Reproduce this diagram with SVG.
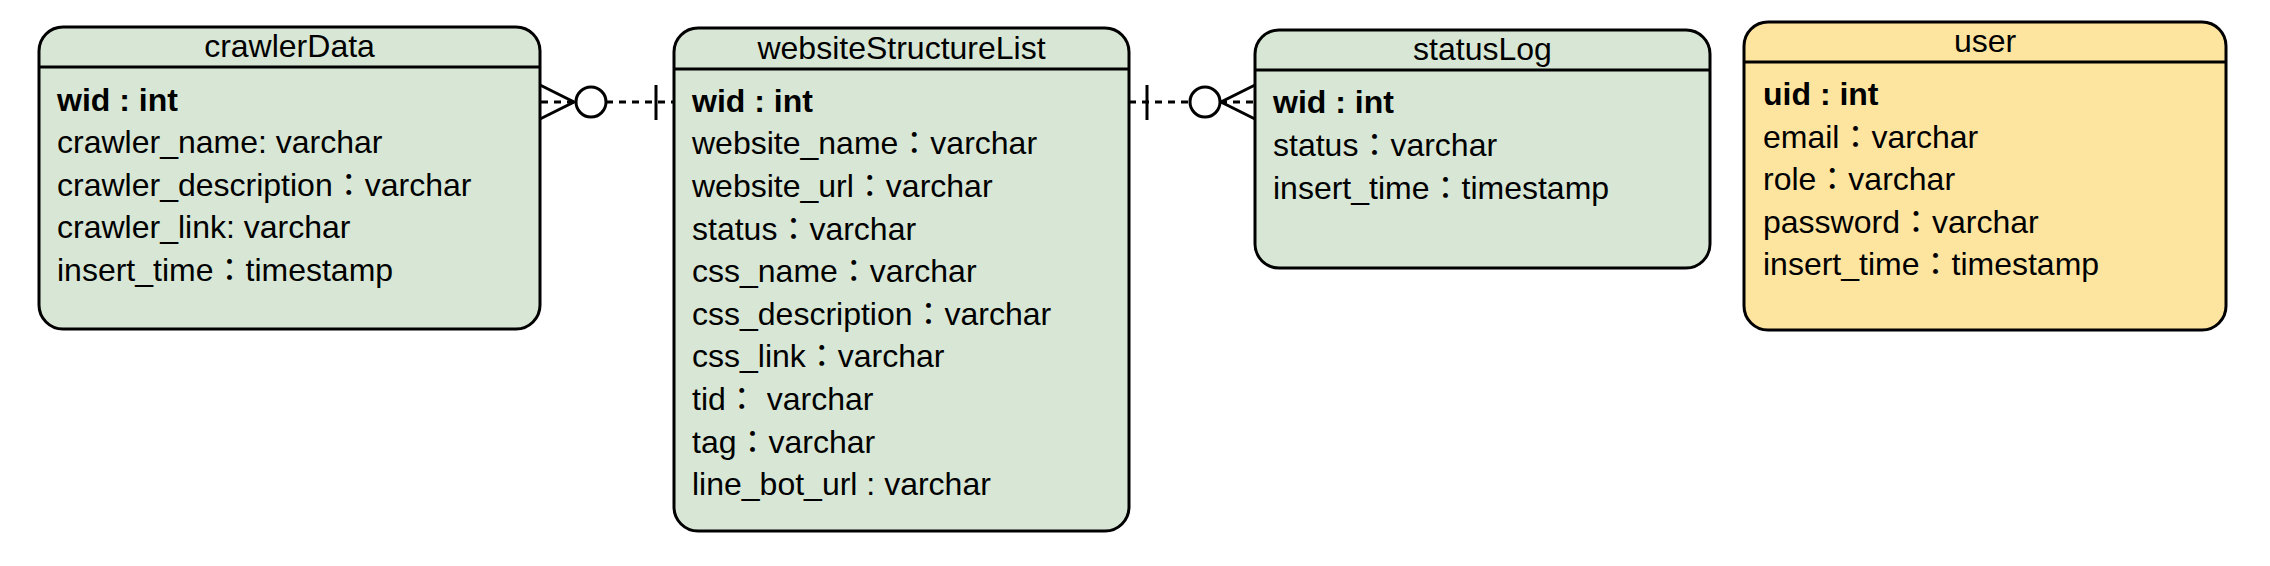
<svg xmlns="http://www.w3.org/2000/svg" width="2270" height="566" viewBox="0 0 2270 566">
<style>
.box{stroke:#000;stroke-width:3}
.green{fill:#d8e7d5}
.yellow{fill:#fde5a0}
.sep{stroke:#000;stroke-width:3}
text{font-family:"Liberation Sans","Noto Sans CJK TC",Arial,sans-serif;font-size:32px;fill:#000}
.title{text-anchor:middle}
.pk{font-weight:bold}
.dash{stroke:#000;stroke-width:3;fill:none;stroke-dasharray:7 6}
.sym{stroke:#000;stroke-width:3;fill:none}
.circ{stroke:#000;stroke-width:3;fill:#fff}
</style>
<rect width="2270" height="566" fill="#fff"/>
<g id="crawlerData">
<rect class="box green" x="39" y="27" width="501" height="302" rx="24"/>
<line class="sep" x1="39" y1="67" x2="540" y2="67"/>
<text class="title" x="289.5" y="57">crawlerData</text>
<text class="pk" x="57" y="110.5">wid : int</text>
<text x="57" y="153">crawler_name: varchar</text>
<text x="57" y="195.7">crawler_description：varchar</text>
<text x="57" y="238.3">crawler_link: varchar</text>
<text x="57" y="281">insert_time：timestamp</text>
</g>
<g id="websiteStructureList">
<rect class="box green" x="674" y="28" width="455" height="503" rx="24"/>
<line class="sep" x1="674" y1="69" x2="1129" y2="69"/>
<text class="title" x="901.5" y="59">websiteStructureList</text>
<text class="pk" x="692" y="111.7">wid : int</text>
<text x="692" y="154.3">website_name：varchar</text>
<text x="692" y="196.9">website_url：varchar</text>
<text x="692" y="239.5">status：varchar</text>
<text x="692" y="282.1">css_name：varchar</text>
<text x="692" y="324.7">css_description：varchar</text>
<text x="692" y="367.3">css_link：varchar</text>
<text x="692" y="409.9">tid： varchar</text>
<text x="692" y="452.5">tag：varchar</text>
<text x="692" y="495.1">line_bot_url : varchar</text>
</g>
<g id="statusLog">
<rect class="box green" x="1255" y="30" width="455" height="238" rx="24"/>
<line class="sep" x1="1255" y1="70" x2="1710" y2="70"/>
<text class="title" x="1482.5" y="60">statusLog</text>
<text class="pk" x="1273" y="113.3">wid : int</text>
<text x="1273" y="155.9">status：varchar</text>
<text x="1273" y="198.5">insert_time：timestamp</text>
</g>
<g id="user">
<rect class="box yellow" x="1744" y="22" width="482" height="308" rx="24"/>
<line class="sep" x1="1744" y1="62" x2="2226" y2="62"/>
<text class="title" x="1985" y="52">user</text>
<text class="pk" x="1763" y="105">uid : int</text>
<text x="1763" y="147.5">email：varchar</text>
<text x="1763" y="190">role：varchar</text>
<text x="1763" y="232.5">password：varchar</text>
<text x="1763" y="275">insert_time：timestamp</text>
</g>
<g id="connectors">
<g id="crawlerData-websiteStructureList">
<line class="dash" x1="541" y1="102" x2="674" y2="102"/>
<path class="sym" d="M540,85 L574,102 L540,119"/>
<circle class="circ" cx="591" cy="102" r="15"/>
<line class="sym" x1="656" y1="85" x2="656" y2="120"/>
</g>
<g id="websiteStructureList-statusLog">
<line class="dash" x1="1129" y1="102" x2="1254" y2="102"/>
<line class="sym" x1="1147" y1="85" x2="1147" y2="120"/>
<path class="sym" d="M1255,85 L1221,102 L1255,119"/>
<circle class="circ" cx="1205" cy="102" r="15"/>
</g>
</g>
</svg>
